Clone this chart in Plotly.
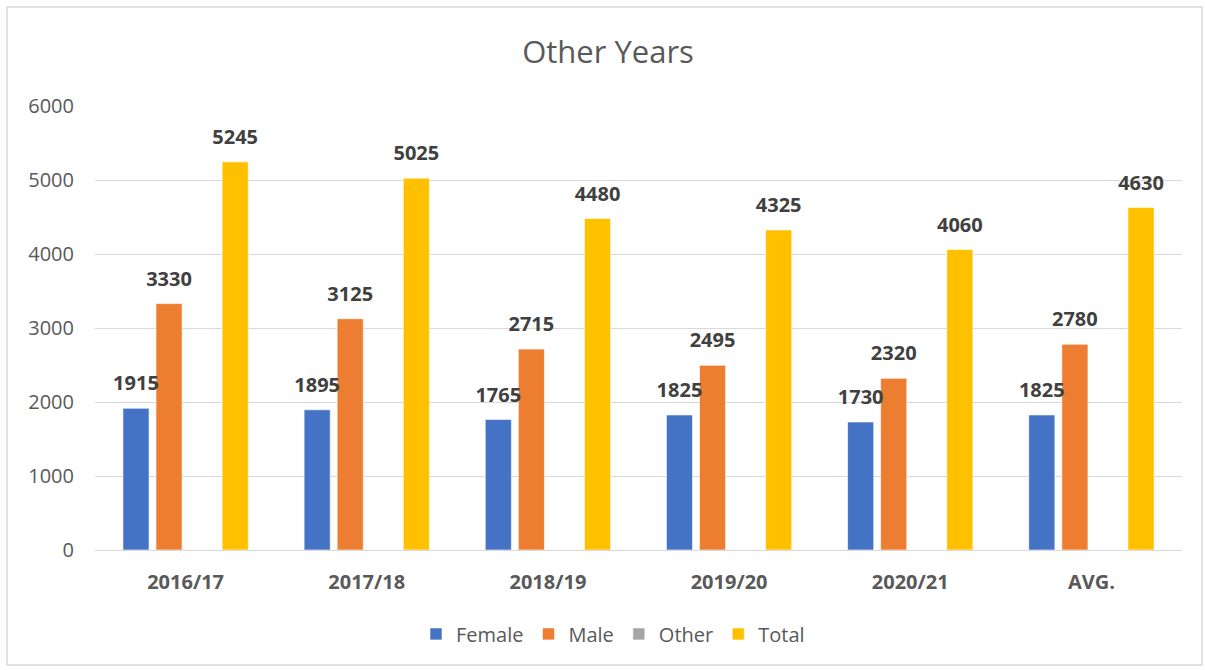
import plotly.graph_objects as go

categories = ["2016/17", "2017/18", "2018/19", "2019/20", "2020/21", "AVG."]
female = [1915, 1895, 1765, 1825, 1730, 1825]
male = [3330, 3125, 2715, 2495, 2320, 2780]
other = [0, 0, 0, 0, 0, 0]
total = [5245, 5025, 4480, 4325, 4060, 4630]
y_ticks = [0, 1000, 2000, 3000, 4000, 5000, 6000]

FONT = "'Open Sans', sans-serif"
series = [
    ("Female", female, "#4472C4", True),
    ("Male", male, "#ED7D31", True),
    ("Other", other, "#A5A5A5", False),
    ("Total", total, "#FFC000", True),
]

fig = go.Figure()
for name, vals, color, show_text in series:
    fig.add_trace(go.Bar(
        name=name, x=categories, y=vals, offsetgroup=name,
        marker=dict(color=color, line=dict(color="rgba(255,255,255,0.6)", width=1)),
        hoverinfo="x+y+name",
    ))
# data labels, grouped like the bars, lifted above each bar top
for name, vals, color, show_text in series:
    fig.add_trace(go.Scatter(
        x=categories, y=vals, mode="markers+text", showlegend=False,
        offsetgroup=name,
        text=[str(v) for v in vals] if show_text else [""] * len(vals),
        textposition="top center",
        marker=dict(size=19, opacity=0, color=color),
        textfont=dict(family=FONT, size=20, color="#404040", weight="bold"),
        hoverinfo="skip", cliponaxis=False,
    ))

fig.update_layout(
    width=1205, height=670,
    margin=dict(l=95, r=23, t=106, b=120),
    paper_bgcolor="white", plot_bgcolor="white",
    barmode="group", bargap=0.27, bargroupgap=0.21,
    scattermode="group", scattergap=0.27,
    title=dict(text="Other Years", x=608 / 1205, xanchor="center", xref="container",
               y=1 - 52 / 670, yanchor="middle",
               font=dict(family=FONT, size=31, color="#595959")),
    font=dict(family=FONT, color="#595959"),
    showlegend=True,
    legend=dict(orientation="h", x=(613 - 95) / 1087, xanchor="center", y=-0.189, yanchor="middle",
                font=dict(family=FONT, size=20, color="#595959"),
                itemwidth=30, tracegroupgap=0, traceorder="normal"),
)
fig.update_yaxes(range=[0, 6000], tickvals=y_ticks, showgrid=True, gridcolor="#D9D9D9",
                 gridwidth=1, zeroline=False, showline=False, ticks="",
                 tickfont=dict(family=FONT, size=20, color="#595959"),
                 ticklabelstandoff=20)
fig.update_xaxes(showgrid=False, showline=True, linecolor="#D9D9D9", linewidth=1, ticks="",
                 tickfont=dict(family=FONT, size=20, color="#595959", weight="bold"),
                 ticklabelstandoff=14)

fig.add_shape(type="rect", xref="paper", yref="paper",
              x0=(7 - 95) / 1087, x1=(1202 - 95) / 1087,
              y0=(550 - 665) / 444, y1=(550 - 7) / 444,
              line=dict(color="#D9D9D9", width=1.5), fillcolor="rgba(0,0,0,0)", layer="below")

fig.write_html("out.html", config={"displayModeBar": False},
               post_script="document.body.style.margin='0px';")
